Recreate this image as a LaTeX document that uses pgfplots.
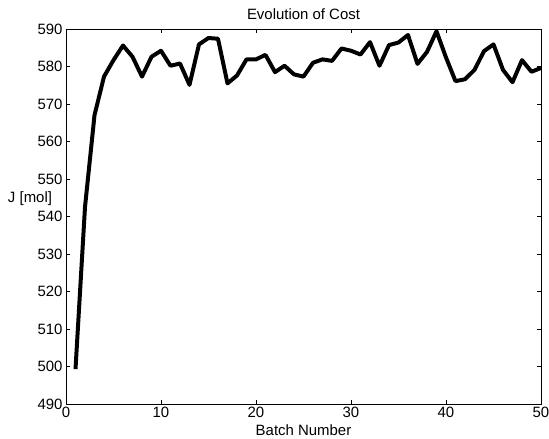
\documentclass[border=0pt]{standalone}
\usepackage{fontspec}
\setmainfont{Liberation Sans}
\usepackage{pgfplots}
\pgfplotsset{compat=1.18}
\begin{document}
\begin{tikzpicture}
\path[use as bounding box] (-66bp,-35bp) rectangle (483bp,404bp);
\begin{axis}[
  scale only axis, width=475bp, height=375bp,
  xmin=0, xmax=50, ymin=490, ymax=590,
  xtick={0,10,...,50}, ytick={490,500,...,590},
  tick align=inside, major tick length=4bp,
  tick style={black, line width=0.5pt},
  axis line style={line width=0.8pt},
  /pgf/number format/assume math mode=true,
  /pgf/number format/1000 sep={},
  tick label style={font=\fontsize{15}{18}\selectfont},
  label style={font=\fontsize{15}{18}\selectfont},
  title style={font=\fontsize{15}{18}\selectfont},
  title={Evolution of Cost},
  xlabel={Batch Number},
  ylabel={J [mol]},
  ylabel style={rotate=-90, at={(axis description cs:-0.0758,0.547)}, anchor=center},
]
\addplot[black, line width=4pt, line join=round] coordinates {
(1,499.3) (2,542.5) (3,567.0) (4,577.3) (5,581.7) (6,585.6) (7,582.6) (8,577.3) (9,582.6) (10,584.2)
(11,580.2) (12,580.8) (13,575.1) (14,585.9) (15,587.6) (16,587.4) (17,575.5) (18,577.6) (19,581.9) (20,581.9)
(21,583.1) (22,578.5) (23,580.2) (24,577.9) (25,577.3) (26,581.0) (27,581.9) (28,581.5) (29,584.8) (30,584.2)
(31,583.2) (32,586.5) (33,580.2) (34,585.7) (35,586.4) (36,588.4) (37,580.7) (38,583.9) (39,589.4) (40,582.4)
(41,576.1) (42,576.6) (43,579.1) (44,584.1) (45,585.9) (46,579.1) (47,575.8) (48,581.7) (49,578.6) (50,579.6)
};
\end{axis}
\end{tikzpicture}
\end{document}
